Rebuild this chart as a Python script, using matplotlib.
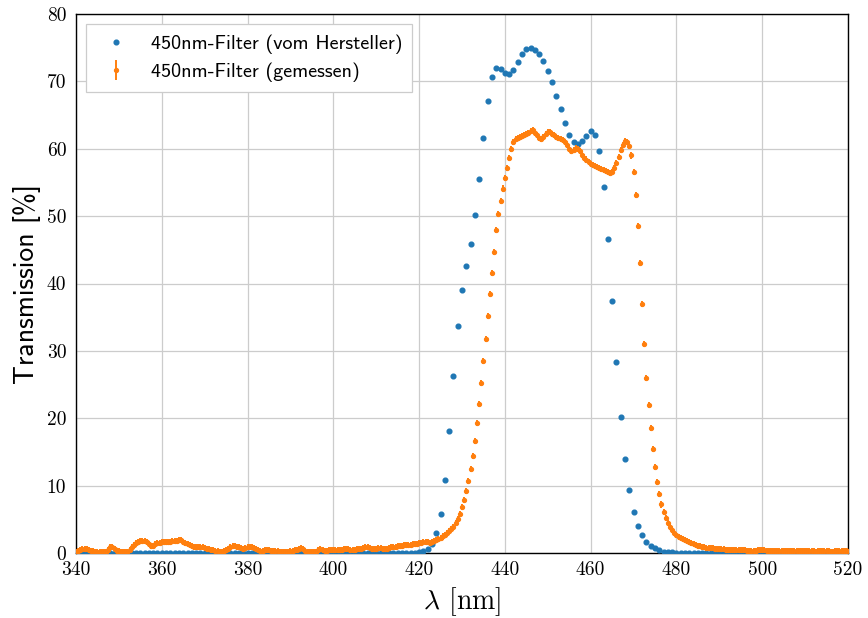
import numpy as np
import matplotlib
matplotlib.use("Agg")
import matplotlib.pyplot as plt

# ---- data ----
# Manufacturer curve, 1 nm steps from 340 to 520 nm
lam_herst = np.arange(340, 521, 1)
T_herst = ([0.0] * 80 +
           [0.15, 0.3, 0.55, 1.3, 2.9, 5.8, 10.9, 18.1, 26.3, 33.7,     # 420-429
            39.0, 42.6, 45.9, 50.1, 55.5, 61.6, 67.1, 70.7, 72.0, 71.8,  # 430-439
            71.3, 71.15, 71.7, 72.9, 74.0, 74.8, 75.0, 74.7, 74.0, 73.0, # 440-449
            71.6, 69.9, 67.9, 65.85, 63.8, 62.1, 61.0, 60.7, 61.15, 61.9,  # 450-459
            62.6, 62.1, 59.6, 54.3, 46.6, 37.4, 28.3, 20.2, 13.9, 9.3,   # 460-469
            6.1, 4.0, 2.6, 1.7, 1.1, 0.7, 0.4, 0.2, 0.12, 0.08,          # 470-479
            0.05] +                                                      # 480
           [0.03] * 5 + [0.0] * 35)                                      # 481-520

# Measured curve, 0.5 nm steps from 340 to 520 nm
lam_mess = np.arange(340, 520.01, 0.5)
T_mess = [
    0.2, 0.35, 0.45, 0.55, 0.6, 0.55, 0.4, 0.3, 0.25, 0.2,        # 340
    0.2, 0.15, 0.1, 0.1, 0.2, 0.5, 0.85, 0.95, 0.6, 0.35,         # 345
    0.25, 0.2, 0.2, 0.2, 0.2, 0.45, 0.85, 1.2, 1.5, 1.65,         # 350
    1.75, 1.8, 1.75, 1.7, 1.4, 1.0, 1.05, 1.3, 1.45, 1.55,        # 355
    1.6, 1.6, 1.6, 1.65, 1.7, 1.75, 1.8, 1.85, 1.95, 1.95,        # 360
    1.7, 1.45, 1.3, 1.15, 1.0, 0.9, 0.85, 0.9, 0.95, 0.9,         # 365
    0.75, 0.6, 0.55, 0.5, 0.45, 0.35, 0.25, 0.2, 0.2, 0.3,        # 370
    0.45, 0.6, 0.85, 1.05, 1.1, 0.95, 0.85, 0.75, 0.6, 0.7,       # 375
    0.9, 0.95, 0.9, 0.8, 0.6, 0.4, 0.3, 0.35, 0.4, 0.45,          # 380
    0.4, 0.35, 0.3, 0.3, 0.25, 0.2, 0.2, 0.2, 0.2, 0.2,           # 385
    0.25, 0.3, 0.4, 0.5, 0.6, 0.7, 0.55, 0.35, 0.2, 0.15,         # 390
    0.1, 0.1, 0.15, 0.4, 0.6, 0.45, 0.3, 0.3, 0.4, 0.45,          # 395
    0.45, 0.45, 0.45, 0.45, 0.5, 0.55, 0.6, 0.55, 0.5, 0.45,      # 400
    0.5, 0.55, 0.6, 0.65, 0.75, 0.85, 0.85, 0.75, 0.6, 0.6,       # 405
    0.65, 0.7, 0.7, 0.65, 0.6, 0.65, 0.75, 0.85, 0.85, 0.9,       # 410
    1.0, 1.1, 1.1, 1.15, 1.2, 1.2, 1.25, 1.3, 1.35, 1.4,          # 415
    1.45, 1.5, 1.6, 1.65, 1.6, 1.55, 1.65, 1.8, 1.95, 2.1,        # 420
    2.25, 2.45, 2.7, 2.95, 3.2, 3.5, 3.9, 4.4, 5.0, 5.85,         # 425
    6.8, 7.9, 9.2, 10.65, 12.5, 14.4, 16.6, 19.25, 22.1, 25.2,    # 430
    28.5, 31.8, 35.2, 38.5, 41.6, 44.7, 47.9, 50.3, 52.3, 54.1,   # 435
    55.6, 57.1, 58.6, 59.9, 61.05, 61.4, 61.6, 61.8, 61.95, 62.1, # 440
    62.25, 62.4, 62.6, 62.8, 62.4, 62.0, 61.6, 61.4, 61.8, 62.2,  # 445
    62.5, 62.5, 62.2, 62.0, 61.8, 61.6, 61.5, 61.3, 61.05, 60.6,  # 450
    60.0, 59.7, 59.8, 60.1, 60.0, 59.7, 59.1, 58.7, 58.4, 58.1,   # 455
    57.8, 57.6, 57.5, 57.35, 57.2, 57.0, 56.85, 56.65, 56.5, 56.45,  # 460
    56.6, 57.1, 57.9, 58.8, 59.8, 60.6, 61.1, 61.0, 60.4, 59.0,   # 465
    56.5, 53.1, 48.5, 43.1, 37.0, 31.0, 26.0, 22.0, 18.55, 15.5,  # 470
    12.8, 10.5, 8.7, 7.2, 6.1, 5.2, 4.5, 3.9, 3.4, 3.0,           # 475
    2.65, 2.4, 2.2, 2.05, 1.9, 1.75, 1.6, 1.45, 1.35, 1.2,        # 480
    1.1, 1.0, 0.9, 0.85, 0.8, 0.75, 0.7, 0.7, 0.65, 0.6,          # 485
    0.6, 0.55, 0.55, 0.5, 0.5, 0.5, 0.45, 0.45, 0.45, 0.4,        # 490
    0.4, 0.4, 0.4, 0.35, 0.35, 0.35, 0.35, 0.35, 0.4, 0.45,       # 495
    0.45, 0.4, 0.35, 0.3, 0.3, 0.25, 0.25, 0.25, 0.3, 0.3,        # 500
    0.3, 0.3, 0.3, 0.3, 0.3, 0.3, 0.25, 0.25, 0.25, 0.3,          # 505
    0.3, 0.25, 0.25, 0.25, 0.25, 0.2, 0.25, 0.3, 0.3, 0.25,       # 510
    0.25, 0.25, 0.2, 0.2, 0.25, 0.3, 0.25, 0.25, 0.25, 0.25,      # 515
    0.25,                                                         # 520
]
T_mess_err = 0.45  # measurement uncertainty in %

label_herst = "450nm-Filter (vom Hersteller)"
label_mess = "450nm-Filter (gemessen)"
xticks = np.arange(340, 521, 20)
yticks = np.arange(0, 81, 10)

# ---- plot ----
plt.rcParams['mathtext.fontset'] = 'cm'

fig = plt.figure(figsize=(8.68, 6.18), dpi=100)
ax = fig.add_axes([76 / 868, 1 - 553 / 618, (848 - 76) / 868, (553 - 14) / 618])

ax.plot(lam_herst, T_herst, 'o', ms=3.4, color='#1f77b4', label=label_herst,
        zorder=3)
ax.errorbar(lam_mess, T_mess, yerr=T_mess_err, fmt='o', ms=2.8,
            color='#ff7f0e', ecolor='#ff7f0e', elinewidth=1.4,
            label=label_mess, zorder=4)

ax.set_xlim(340, 520)
ax.set_ylim(0, 80)
ax.set_xticks(xticks)
ax.set_yticks(yticks)
ax.grid(True, color='#cccccc', linewidth=0.9)
ax.set_axisbelow(True)
ax.tick_params(length=0, labelsize=14)
ax.tick_params(axis='x', pad=6)
ax.tick_params(axis='y', pad=7)
for lab in ax.get_xticklabels() + ax.get_yticklabels():
    lab.set_fontfamily('cmr10')
for sp in ax.spines.values():
    sp.set_color('black')
    sp.set_linewidth(1.0)

ax.set_xlabel(r'$\lambda$ [nm]', fontsize=20, fontfamily='cmr10', labelpad=4)
ax.set_ylabel('Transmission [%]', fontsize=20, fontfamily='cmss10', labelpad=4)

leg = ax.legend(loc='upper left', prop={'family': 'cmss10', 'size': 14.5},
                fancybox=False, framealpha=1, edgecolor='#cccccc',
                borderaxespad=0.5, handletextpad=0.7, borderpad=0.5,
                labelspacing=0.45)
leg.get_frame().set_linewidth(0.9)

fig.savefig('out.png', dpi=100)
